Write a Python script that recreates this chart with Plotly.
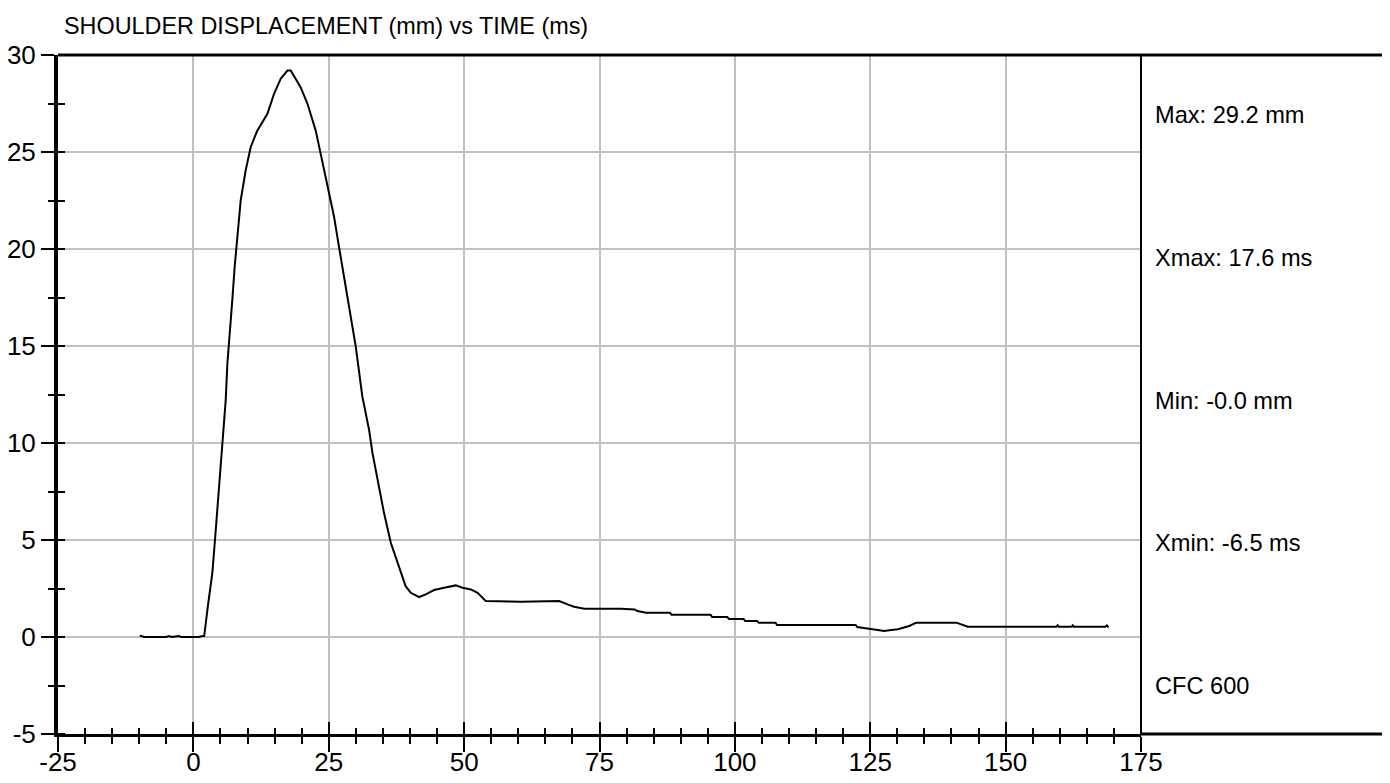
import plotly.graph_objects as go

# curve
time_ms = [
    -9.9, -9.0, -7.0, -5.0, -4.5, -4.0, -2.7, -2.2, 0.0, 1.0,
    1.7, 2.0, 2.6, 3.5, 4.1, 4.55, 5.04, 5.48, 5.97, 6.28,
    6.77, 7.2, 7.63, 8.13, 8.74, 9.66, 10.59, 11.8, 13.67, 14.9,
    16.13, 17.37, 17.98, 19.8, 21.06, 22.6, 23.52, 24.76, 25.98, 26.9,
    28.14, 29.07, 29.99, 31.2, 32.45, 33.07, 34.3, 35.2, 36.46, 37.7,
    39.2, 40.15, 41.7, 42.9, 44.46, 46.3, 48.47, 49.7, 51.24, 52.5,
    54.0, 60.5, 67.55, 69.1, 70.3, 72.2, 78.95, 81.5, 82.0, 83.6,
    88.0, 88.3, 95.5, 95.8, 98.6, 98.9, 101.6, 101.9, 104.1, 104.4,
    107.5, 107.8, 122.3, 122.6, 124.5, 127.6, 128.5, 130.1, 132.2, 133.5,
    140.9, 143.0, 159.4, 159.6, 159.8, 162.2, 162.4, 162.6, 168.4, 168.7,
    169.0,
]
disp_mm = [
    0.07, 0.0, 0.0, 0.0, 0.05, 0.0, 0.05, 0.0, 0.0, 0.0,
    0.05, 0.05, 1.42, 3.3, 5.4, 7.1, 8.8, 10.3, 12.2, 14.1,
    15.7, 17.4, 19.1, 20.5, 22.5, 24.06, 25.26, 26.1, 26.97, 28.0,
    28.78, 29.2, 29.2, 28.34, 27.5, 26.1, 24.9, 23.4, 21.66, 20.1,
    18.06, 16.34, 14.97, 12.4, 10.68, 9.49, 7.77, 6.4, 4.86, 3.8,
    2.62, 2.28, 2.06, 2.2, 2.42, 2.54, 2.66, 2.54, 2.45, 2.28,
    1.85, 1.82, 1.85, 1.68, 1.56, 1.46, 1.46, 1.42, 1.34, 1.25,
    1.25, 1.15, 1.15, 1.03, 1.03, 0.93, 0.93, 0.82, 0.82, 0.74,
    0.74, 0.62, 0.62, 0.51, 0.43, 0.31, 0.35, 0.4, 0.57, 0.74,
    0.74, 0.53, 0.53, 0.6, 0.53, 0.53, 0.6, 0.53, 0.53, 0.6,
    0.5,
]

x_ticks = [-25, 0, 25, 50, 75, 100, 125, 150, 175]
x_tick_labels = ["-25", "0", "25", "50", "75", "100", "125", "150", "175"]
y_ticks = [-5, 0, 5, 10, 15, 20, 25, 30]
y_tick_labels = ["-5", "0", "5", "10", "15", "20", "25", "30"]

title_text = "SHOULDER DISPLACEMENT (mm) vs TIME (ms)"
stats_labels = ["Max: 29.2 mm", "Xmax: 17.6 ms", "Min: -0.0 mm", "Xmin: -6.5 ms", "CFC 600"]
stats_y = [0.912, 0.701, 0.491, 0.281, 0.071]

SANS = "Liberation Sans, Arial, sans-serif"

fig = go.Figure()
fig.add_trace(go.Scatter(x=time_ms, y=disp_mm, mode="lines",
                         line=dict(color="black", width=2), hoverinfo="skip"))
# invisible copy so the overlay axes (inner tick halves) get drawn
fig.add_trace(go.Scatter(x=time_ms, y=disp_mm, mode="lines", xaxis="x2", yaxis="y2",
                         line=dict(color="rgba(0,0,0,0)", width=0), hoverinfo="skip"))

x_range = [x_ticks[0], x_ticks[-1]]
y_range = [y_ticks[0], y_ticks[-1]]

# page body keeps its 8px margin, so the figure is 8px smaller each way
fig.update_layout(
    width=1382, height=775,
    margin=dict(l=50, r=249, t=47, b=49),
    paper_bgcolor="white", plot_bgcolor="white",
    showlegend=False,
    xaxis=dict(
        range=x_range, tickmode="array", tickvals=x_ticks, ticktext=x_tick_labels,
        ticks="outside", ticklen=15, tickwidth=2, automargin=False, ticklabelstandoff=-12,
        tickcolor="black", showline=True, linecolor="black", linewidth=3,
        showgrid=True, gridcolor="#c0c0c0", gridwidth=2, zeroline=False,
        tickfont=dict(family=SANS, size=26, color="black"),
        minor=dict(tick0=-25, dtick=5, ticks="outside", ticklen=7, tickwidth=2,
                   tickcolor="black", showgrid=False),
    ),
    yaxis=dict(
        range=y_range, tickmode="array", tickvals=y_ticks, ticktext=y_tick_labels,
        ticks="outside", ticklen=13, tickwidth=2, automargin=False,
        tickcolor="black", showline=True, linecolor="black", linewidth=4,
        showgrid=True, gridcolor="#c0c0c0", gridwidth=2, zeroline=False,
        tickfont=dict(family=SANS, size=26, color="black"),
        minor=dict(tick0=-5, dtick=2.5, ticks="outside", ticklen=6, tickwidth=2,
                   tickcolor="black", showgrid=False),
    ),
    xaxis2=dict(
        range=x_range, overlaying="x", anchor="y2", side="bottom",
        tickmode="array", tickvals=x_ticks, automargin=False,
        ticks="inside", ticklen=12, tickwidth=2, tickcolor="black", showticklabels=False,
        showgrid=False, zeroline=False, showline=False,
        minor=dict(tick0=-25, dtick=5, ticks="inside", ticklen=6, tickwidth=2,
                   tickcolor="black", showgrid=False),
    ),
    yaxis2=dict(
        range=y_range, overlaying="y", anchor="x2", side="left",
        tickmode="array", tickvals=y_ticks, automargin=False,
        ticks="", showticklabels=False, showgrid=False, zeroline=False, showline=False,
        minor=dict(tick0=-5, dtick=2.5, ticks="inside", ticklen=7, tickwidth=2,
                   tickcolor="black", showgrid=False),
    ),
)

# frame: top line running across to the right edge, right panel divider, bottom extension
fig.add_shape(type="line", xref="paper", yref="paper", x0=0, x1=1.24, y0=1, y1=1,
              line=dict(color="black", width=3))
fig.add_shape(type="line", xref="paper", yref="paper", x0=1, x1=1, y0=0, y1=1,
              line=dict(color="black", width=2))
fig.add_shape(type="line", xref="paper", yref="paper", x0=1, x1=1.24, y0=0, y1=0,
              line=dict(color="black", width=3))

fig.add_annotation(text=title_text, xref="paper", yref="paper", x=0.004, y=1.042,
                   xanchor="left", yanchor="middle", showarrow=False,
                   font=dict(family=SANS, size=23.4, color="black"))
for label, yy in zip(stats_labels, stats_y):
    fig.add_annotation(text=label, xref="paper", yref="paper", x=1.011, y=yy,
                       xanchor="left", yanchor="middle", showarrow=False,
                       font=dict(family=SANS, size=23.6, color="black"))

fig.write_html("out.html", config={"displayModeBar": False})
